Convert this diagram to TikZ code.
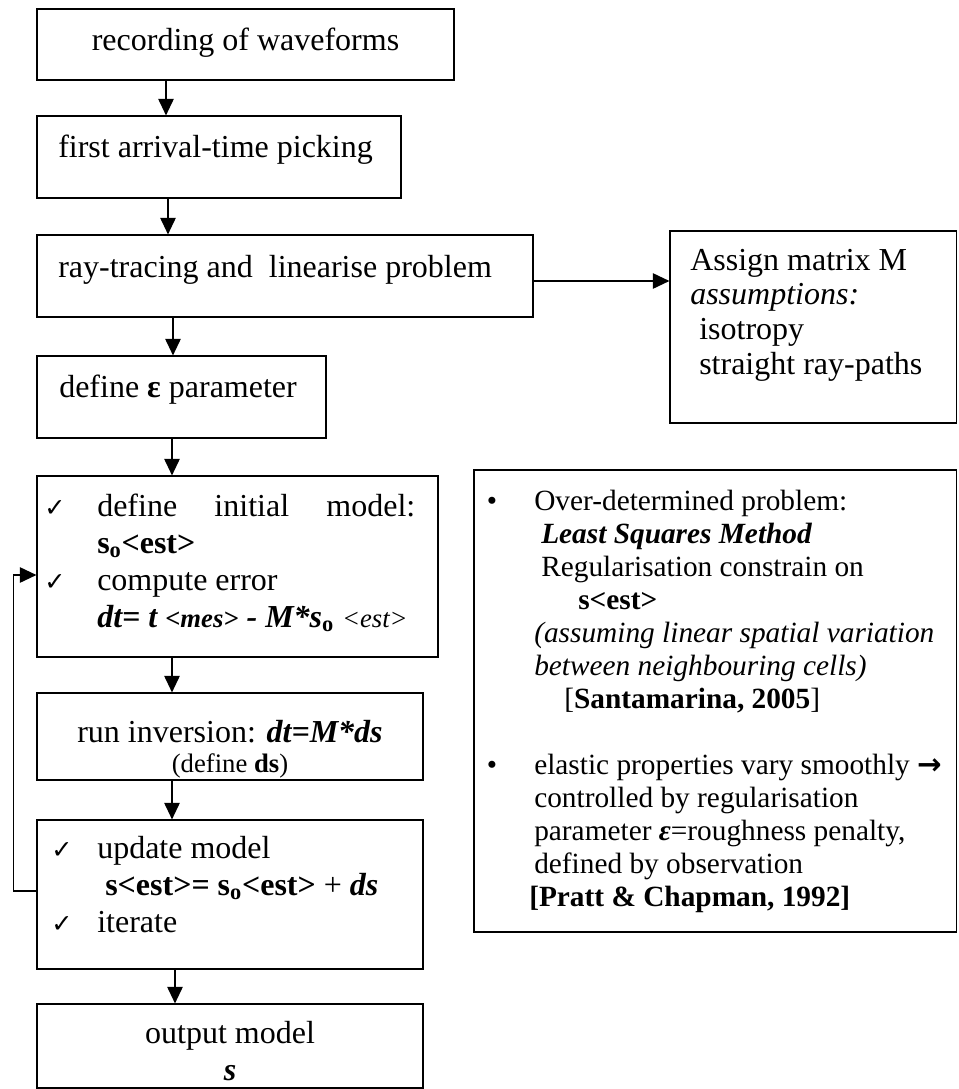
\documentclass[tikz,border=0pt]{standalone}
\usepackage{fontspec}
\setmainfont{Liberation Serif}
\newfontfamily\dejavu{DejaVu Sans}
\usetikzlibrary{arrows.meta,fit}
\begin{document}
\begin{tikzpicture}[x=0.75pt,y=-0.75pt,
  box/.style={draw, line width=0.8pt, rectangle, inner sep=0pt},
  arr/.style={line width=1.4pt, -{Triangle[length=12.5pt,width=11.5pt]}},
  lt/.style={anchor=base west, inner sep=0pt, font=\fontsize{24}{28}\selectfont},
  ct/.style={anchor=base, inner sep=0pt, font=\fontsize{24}{28}\selectfont},
  rt/.style={anchor=base west, inner sep=0pt, font=\fontsize{22}{25}\selectfont},
  ck/.style={anchor=base west, inner sep=0pt, font=\dejavu\fontsize{19}{22}\selectfont},
  bl/.style={anchor=base, inner sep=0pt, font=\fontsize{22}{25}\selectfont}]
\useasboundingbox (0,0) rectangle (958,1089);

% boxes
\node[box, fit={(37,9) (454,80)}] (b1) {};
\node[box, fit={(37,116) (401,198)}] (b2) {};
\node[box, fit={(37,235) (533,317)}] (b3) {};
\node[box, fit={(670,231) (956.5,423)}] (asg) {};
\node[box, fit={(37,356) (326,438)}] (b4) {};
\node[box, fit={(37,476) (438,657)}] (b5) {};
\node[box, fit={(37,693) (423,780)}] (b6) {};
\node[box, fit={(37,820) (423,969)}] (b7) {};
\node[box, fit={(37,1004) (423,1088)}] (b8) {};
\node[box, fit={(474,470) (956.5,932)}] (rb) {};

% texts
\node[ct] (t1) at (245.5,50) {recording of waveforms};
\node[lt] (t2) at (58,157) {first arrival-time picking};
\node[lt] (t3) at (58,277) {ray-tracing and\ \ linearise problem};
\node[lt] (t4) at (59,397) {define \textbf{ε} parameter};

\node[ck] (c1) at (44,516) {✓};
\node[lt] (t5a) at (97,516) {\makebox[238.5pt][s]{define initial model:}};
\node[lt] (t5b) at (97,553) {\textbf{s\textsubscript{o}<est>}};
\node[ck] (c2) at (44,590) {✓};
\node[lt] (t5c) at (97,590) {compute error};
\node[lt] (t5d) at (97,627) {\textbf{\textit{dt= t {\fontsize{20}{24}\selectfont <mes>} - M*s}\textsubscript{o}} {\fontsize{20}{24}\selectfont\textit{<est>}}};

\node[ct] (t6a) at (230,742) {run inversion: \textbf{\textit{dt=M*ds}}};
\node[anchor=base, inner sep=0pt, font=\fontsize{20}{24}\selectfont] (t6b) at (230,772) {(define \textbf{ds})};

\node[ck] (c3) at (51,858) {✓};
\node[lt] (t7a) at (97,858) {update model};
\node[lt] (t7b) at (105,895) {\textbf{s<est>= s\textsubscript{o}<est>} + \textbf{\textit{ds}}};
\node[ck] (c4) at (51,932) {✓};
\node[lt] (t7c) at (97,932) {iterate};

\node[ct] (t8a) at (230,1043) {output model};
\node[ct] (t8b) at (230,1080) {\textbf{\textit{s}}};

\node[lt] (ta1) at (690,270) {Assign matrix M};
\node[lt] (ta2) at (690,304) {\textit{assumptions:}};
\node[lt] (ta3) at (699,339) {isotropy};
\node[lt] (ta4) at (699,374) {straight ray-paths};

\node[bl] (bu1) at (492,510) {•};
\node[rt] (r1) at (534,510) {Over-determined problem:};
\node[rt] (r2) at (541,543) {\textbf{\textit{Least Squares Method}}};
\node[rt] (r3) at (541,576) {Regularisation constrain on};
\node[rt] (r4) at (578,609) {\textbf{s<est>}};
\node[rt] (r5) at (534,642) {\textit{(assuming linear spatial variation}};
\node[rt] (r6) at (534,675) {\textit{between neighbouring cells)}};
\node[rt] (r7) at (564,708) {[\textbf{Santamarina, 2005}]};
\node[bl] (bu2) at (492,774) {•};
\node[rt] (r8) at (534,774) {elastic properties vary smoothly {\dejavu\bfseries →}};
\node[rt] (r9) at (534,807) {controlled by regularisation};
\node[rt] (r10) at (534,840) {parameter \textbf{\textit{ε}}=roughness penalty,};
\node[rt] (r11) at (534,873) {defined by observation};
\node[rt] (r12) at (529,906) {\textbf{[Pratt \& Chapman, 1992]}};

% connector guides
\coordinate (x1) at (166,0);
\coordinate (x2) at (168,0);
\coordinate (x3) at (173,0);
\coordinate (x4) at (172,0);
\coordinate (x7) at (175,0);
\coordinate (ya) at (0,281);
\coordinate (yl1) at (0,891);
\coordinate (yl2) at (0,575);

\draw[arr] (b1.south -| x1) -- (b2.north -| x1);
\draw[arr] (b2.south -| x2) -- (b3.north -| x2);
\draw[arr] (b3.east |- ya) -- (asg.west |- ya);
\draw[arr] (b3.south -| x3) -- (b4.north -| x3);
\draw[arr] (b4.south -| x4) -- (b5.north -| x4);
\draw[arr] (b5.south -| x4) -- (b6.north -| x4);
\draw[arr] (b6.south -| x4) -- (b7.north -| x4);
\draw[arr] (b7.south -| x7) -- (b8.north -| x7);
\draw[arr] (b7.west |- yl1) -- ++(-23,0) |- (b5.west |- yl2);
\end{tikzpicture}
\end{document}
